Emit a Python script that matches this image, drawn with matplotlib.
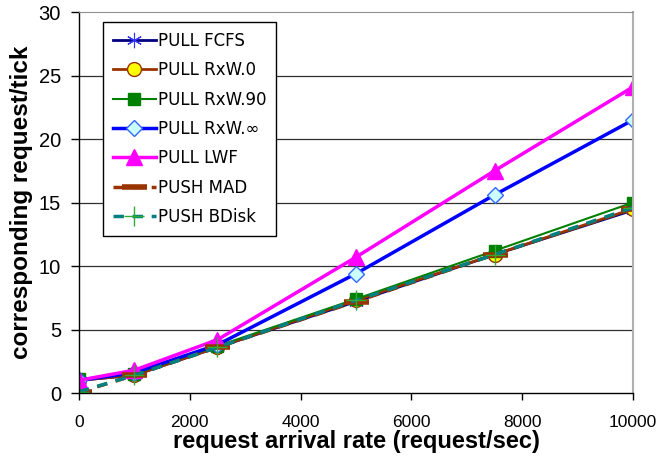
import numpy as np
import matplotlib
matplotlib.use('Agg')
import matplotlib.pyplot as plt

rates = [0, 1000, 2500, 5000, 7500, 10000]
pull_fcfs = [1.0, 1.4, 3.6, 7.2, 10.9, 14.4]
pull_rxw0 = [1.0, 1.4, 3.6, 7.3, 10.9, 14.5]
pull_rxw90 = [1.1, 1.5, 3.7, 7.4, 11.2, 15.0]
pull_rxwinf = [1.0, 1.6, 3.8, 9.4, 15.6, 21.5]
pull_lwf = [1.0, 1.8, 4.2, 10.7, 17.5, 24.1]
push_mad = [0.05, 1.4, 3.6, 7.2, 10.9, 14.5]
push_bdisk = [0.1, 1.4, 3.6, 7.3, 10.9, 14.6]

def main():
    fig = plt.figure(figsize=(6.57, 4.57), dpi=100)
    ax = fig.add_axes([0.1202, 0.140, 0.8433, 0.8337])

    for y in range(5, 30, 5):
        ax.axhline(y, color='#303030', lw=0.9, zorder=0)

    ax.plot(rates, pull_fcfs, color='#000080', lw=2, marker=(6, 2, 0), ms=11,
            mec='#3333ff', mew=0.8, label='PULL FCFS')
    ax.plot(rates, pull_rxw0, color='#993300', lw=2, marker='o', ms=10,
            mfc='#ffff00', mec='#993300', mew=1, label='PULL RxW.0')
    ax.plot(rates, pull_rxw90, color='#008000', lw=1.5, marker='s', ms=9,
            mfc='#008000', mec='#008000', label='PULL RxW.90')
    ax.plot(rates, pull_rxwinf, color='#0000ff', lw=2.5, marker='D', ms=8,
            mfc='#ccffff', mec='#3366ff', mew=1, label=u'PULL RxW.\u221e')
    ax.plot(rates, pull_lwf, color='#ff00ff', lw=2.5, marker='^', ms=12,
            mfc='#ff00ff', mec='#ff00ff', label='PULL LWF')
    ax.plot(rates, push_mad, color='#993300', lw=2.5, ls=(0, (3, 2.5)), marker='_', ms=18,
            mew=4, label='PUSH MAD')
    ax.plot(rates, push_bdisk, color='#008080', lw=2.5, ls=(0, (3, 2.5)), marker='+', ms=14,
            mec='#33aa33', mew=1, label='PUSH BDisk')

    ax.set_xlim(0, 10000)
    ax.set_ylim(0, 30)
    ax.set_xticks(range(0, 10001, 2000))
    ax.set_yticks(range(0, 31, 5))
    for lbl in ax.get_xticklabels():
        lbl.set_fontfamily('Liberation Sans')
        lbl.set_fontsize(12.5)
    for lbl in ax.get_yticklabels():
        lbl.set_fontfamily('Liberation Sans')
        lbl.set_fontsize(14.5)
    ax.tick_params(axis='x', direction='out', length=5, width=1, pad=11, color='black')
    ax.tick_params(axis='y', direction='out', length=6, width=1, pad=7, color='black')
    ax.spines['top'].set_color('#909090')
    ax.spines['right'].set_color('#b0b0b0')
    ax.spines['right'].set_linewidth(1.5)
    ax.spines['left'].set_linewidth(1)
    ax.spines['bottom'].set_linewidth(1)

    ax.set_xlabel('request arrival rate (request/sec)', fontfamily='Liberation Sans',
                  fontweight='bold', fontsize=17, labelpad=0)
    ax.set_ylabel('corresponding request/tick', fontfamily='Liberation Sans',
                  fontweight='bold', fontsize=17.5, labelpad=4)

    leg = ax.legend(loc='upper left', bbox_to_anchor=(0.043, 0.974), borderaxespad=0,
                    fancybox=False, framealpha=1, edgecolor='black', handlelength=2.6,
                    labelspacing=0.68, borderpad=0.6, handletextpad=0.1,
                    prop={'family': 'DejaVu Sans', 'size': 12})
    leg.get_frame().set_linewidth(1)

    fig.savefig('out.png', dpi=100)


if __name__ == "__main__":
    main()
